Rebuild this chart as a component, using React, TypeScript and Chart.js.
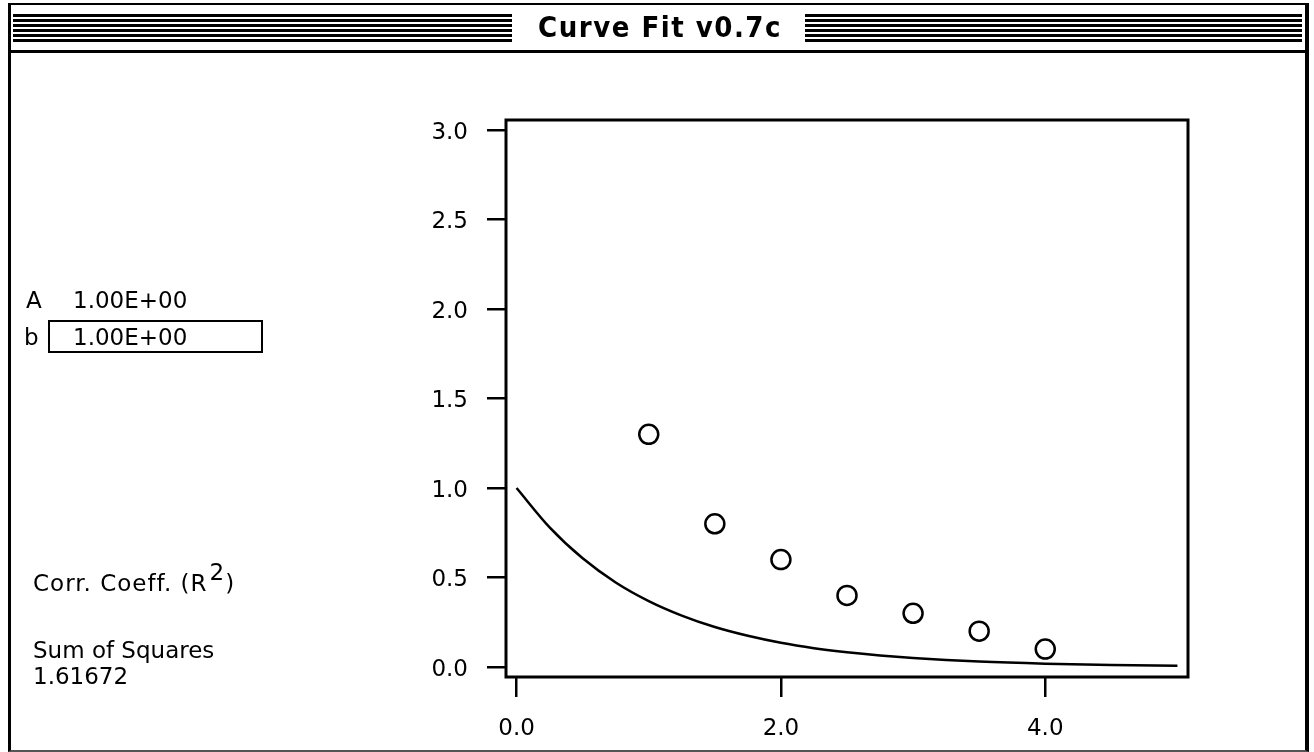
import React, { useEffect, useRef } from "react";
import { Chart, registerables } from "chart.js";
Chart.register(...registerables);

const titleText = "Curve Fit v0.7c";
const pointX = [1, 1.5, 2, 2.5, 3, 3.5, 4];
const pointY = [1.3, 0.8, 0.6, 0.4, 0.3, 0.2, 0.1];
const curveX = [0, 0.25, 0.5, 0.75, 1, 1.25, 1.5, 1.75, 2, 2.25, 2.5, 2.75, 3, 3.5, 4, 4.5, 5];
const curveY = [1.0, 0.78, 0.607, 0.472, 0.368, 0.287, 0.223, 0.174, 0.135, 0.105, 0.082, 0.064, 0.05, 0.03, 0.018, 0.011, 0.007];
const xTicks = [0, 2, 4];
const yTicks = [0, 0.5, 1, 1.5, 2, 2.5, 3];
const paramA = "1.00E+00";
const paramB = "1.00E+00";
const sumSquares = "1.61672";

const FONT = "'DejaVu Sans', sans-serif";

export default function App() {
  const ref = useRef<HTMLCanvasElement>(null);
  useEffect(() => {
    const frame = {
      id: "frame",
      beforeDatasetsDraw(chart: any) {
        const { ctx, chartArea: a } = chart;
        ctx.save();
        ctx.strokeStyle = "#000";
        ctx.lineWidth = 3;
        ctx.strokeRect(a.left, a.top, a.right - a.left, a.bottom - a.top);
        ctx.restore();
      },
    };
    const tickFont = { family: FONT, size: 23 };
    const chart = new Chart(ref.current as HTMLCanvasElement, {
      type: "scatter",
      data: {
        datasets: [
          {
            data: pointX.map((x, i) => ({ x, y: pointY[i] })),
            pointRadius: 9.5,
            pointBorderWidth: 2.5,
            pointBorderColor: "#000",
            pointBackgroundColor: "#fff",
            showLine: false,
            order: 0,
          },
          {
            data: curveX.map((x, i) => ({ x, y: curveY[i] })),
            showLine: true,
            borderColor: "#000",
            borderWidth: 2.5,
            pointRadius: 0,
            cubicInterpolationMode: "monotone",
            order: 1,
          } as any,
        ],
      },
      options: {
        animation: false,
        responsive: false,
        devicePixelRatio: 1,
        layout: { padding: { left: 0, top: 120, right: 126, bottom: 0 } },
        plugins: {
          legend: { display: false },
          tooltip: { enabled: false },
          title: { display: false },
        },
        scales: {
          x: {
            type: "linear",
            min: -0.08,
            max: 5.08,
            afterBuildTicks: (s: any) => {
              s.ticks = xTicks.map((v) => ({ value: v }));
            },
            afterFit: (s: any) => {
              s.height = 75;
            },
            border: { display: false },
            grid: {
              display: true,
              drawOnChartArea: false,
              drawTicks: true,
              tickLength: 20,
              color: "#000",
              lineWidth: 2.5,
            },
            ticks: {
              color: "#000",
              font: tickFont,
              padding: 18,
              maxRotation: 0,
              autoSkip: false,
              callback: (v: any) => Number(v).toFixed(1),
            },
          },
          y: {
            type: "linear",
            min: -0.056,
            max: 3.056,
            afterBuildTicks: (s: any) => {
              s.ticks = yTicks.map((v) => ({ value: v }));
            },
            afterFit: (s: any) => {
              s.width = 506;
            },
            border: { display: false },
            grid: {
              display: true,
              drawOnChartArea: false,
              drawTicks: true,
              tickLength: 19,
              color: "#000",
              lineWidth: 2.5,
            },
            ticks: {
              color: "#000",
              font: tickFont,
              padding: 19,
              labelOffset: 3,
              autoSkip: false,
              callback: (v: any) => Number(v).toFixed(1),
            },
          },
        },
      },
      plugins: [frame],
    });
    return () => chart.destroy();
  }, []);

  const abs = (s: React.CSSProperties): React.CSSProperties => ({ position: "absolute", ...s });
  const txt: React.CSSProperties = {
    position: "absolute",
    fontFamily: FONT,
    fontSize: 23,
    lineHeight: "23px",
    whiteSpace: "nowrap",
    color: "#000",
  };
  const stripes = "repeating-linear-gradient(to bottom, #000 0px, #000 3px, #fff 3px, #fff 5px)";

  return (
    <div style={{ position: "fixed", left: 0, top: 0, width: 1314, height: 752, background: "#fff", overflow: "hidden" }}>
      <canvas ref={ref} width={1314} height={752} style={{ position: "absolute", left: 0, top: 0, width: 1314, height: 752 }} />
      {/* window frame */}
      <div style={abs({ left: 8, top: 3, width: 1301, height: 749, boxSizing: "border-box", borderTop: "2px solid #000", borderLeft: "3px solid #000", borderRight: "4px solid #000", borderBottom: "2px solid #555", pointerEvents: "none" })} />
      <div style={abs({ left: 8, top: 50, width: 1301, height: 3, background: "#000" })} />
      <div style={abs({ left: 13, top: 14, width: 499, height: 28, background: stripes })} />
      <div style={abs({ left: 805, top: 14, width: 497, height: 28, background: stripes })} />
      <div style={abs({ left: 515, top: 13, width: 290, height: 30, textAlign: "center", fontFamily: "'DejaVu Sans Condensed', 'DejaVu Sans', sans-serif", fontWeight: "bold", fontSize: 29, lineHeight: "29px", letterSpacing: "1.5px", whiteSpace: "nowrap" })}>{titleText}</div>
      {/* parameters */}
      <div style={{ ...txt, left: 26, top: 289 }}>A</div>
      <div style={{ ...txt, left: 73, top: 289 }}>{paramA}</div>
      <div style={{ ...txt, left: 24, top: 326 }}>b</div>
      <div style={abs({ left: 48, top: 320, width: 215, height: 33, boxSizing: "border-box", border: "2px solid #000" })} />
      <div style={{ ...txt, left: 73, top: 326 }}>{paramB}</div>
      <div style={{ ...txt, left: 33, top: 572, letterSpacing: "1px" }}>
        Corr. Coeff. (R<span style={{ position: "relative", top: -11, marginLeft: 2 }}>2</span>)
      </div>
      <div style={{ ...txt, left: 33, top: 639 }}>Sum of Squares</div>
      <div style={{ ...txt, left: 33, top: 665 }}>{sumSquares}</div>
    </div>
  );
}
